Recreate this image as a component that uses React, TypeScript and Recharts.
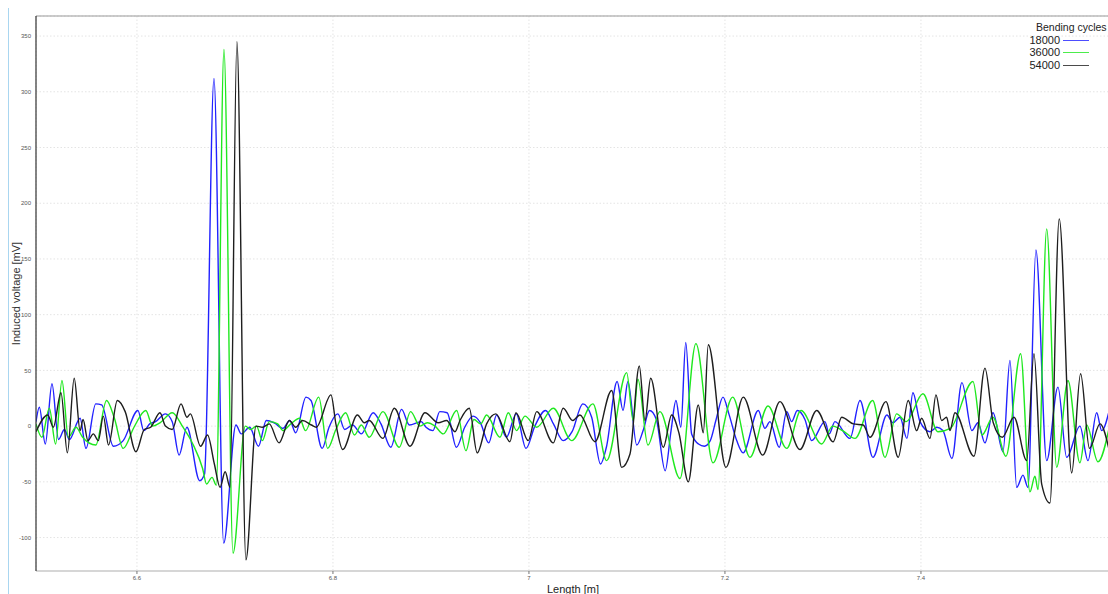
import React from 'react';
import { LineChart, Line, XAxis, YAxis, CartesianGrid, Legend, ReferenceLine } from 'recharts';

const X_TICKS = [6.6, 6.8, 7, 7.2, 7.4];
const Y_TICKS = [-100, -50, 0, 50, 100, 150, 200, 250, 300, 350];
const X_DOMAIN: [number, number] = [6.497, 7.5929];
const Y_DOMAIN: [number, number] = [-130, 368];
const SERIES_NAMES = ['18000', '36000', '54000'];
const SERIES_COLORS = ['#2121ff', '#1fe81f', '#1e1e1e'];
const LEGEND_TITLE = 'Bending cycles';
const X_LABEL = 'Length [m]';
const Y_LABEL = 'Induced voltage [mV]';

// [length m, induced voltage mV]
const cycles18000: [number, number][] = [
  [6.497, 4], [6.5004, 17], [6.5065, -16], [6.5133, 38], [6.52, -12], [6.526, -3], [6.531, -12], [6.542, 7],
  [6.548, -20], [6.558, 20], [6.564, 19], [6.576, -18], [6.586, -13], [6.601, 14], [6.607, -4], [6.613, 2],
  [6.619, 4], [6.629, 11], [6.636, 4], [6.643, -26], [6.651, -1], [6.664, -49], [6.669, -43], [6.6786, 312],
  [6.6885, -105], [6.701, 1], [6.7065, -7], [6.715, -1], [6.724, -18], [6.732, 5], [6.74, 3], [6.749, -2],
  [6.756, 5], [6.762, -6], [6.7725, 26], [6.7776, 23], [6.789, -20], [6.796, -1], [6.805, 11], [6.812, -3],
  [6.82, 1], [6.829, -7], [6.841, 12], [6.849, 2], [6.859, -19], [6.87, 15], [6.878, 1], [6.89, 4],
  [6.895, -1], [6.902, -4], [6.909, 13], [6.9165, 12], [6.926, -19], [6.9345, -1], [6.943, 9], [6.9505, 3],
  [6.959, -15], [6.967, 10], [6.977, -10], [6.987, 11], [6.997, -20], [7.006, 0], [7.017, 14], [7.025, 2],
  [7.035, -13], [7.044, -5], [7.055, 20], [7.064, 8], [7.073, -34], [7.079, -19], [7.09, 40], [7.096, 14],
  [7.101, 40], [7.11, -17], [7.1165, -4], [7.123, 14], [7.13, 6], [7.139, -40], [7.145, -4], [7.15, 23],
  [7.155, -1], [7.16, 75], [7.166, -7], [7.173, -16], [7.179, -18], [7.185, -13], [7.191, 6], [7.198, 26],
  [7.204, 11], [7.212, -13], [7.2185, -24], [7.234, 14], [7.2408, -2], [7.2459, 4], [7.2554, -19], [7.263, 13],
  [7.2681, 4], [7.2738, 14], [7.2816, 6], [7.2885, -13], [7.302, 4], [7.3064, -7], [7.3122, 4], [7.3276, -11],
  [7.3378, 23], [7.351, -28], [7.3653, 10], [7.3714, 3], [7.3786, 8], [7.3857, -11], [7.3918, 30], [7.399, 4],
  [7.4092, -5], [7.4163, -1], [7.4224, -4], [7.4316, -29], [7.4418, 39], [7.452, -4], [7.4582, 3], [7.4653, -15],
  [7.4735, 12], [7.4837, -23], [7.4908, 59], [7.4977, -55], [7.5041, -44], [7.5092, -55], [7.5173, 158], [7.5283, -31],
  [7.5398, 35], [7.5487, -28], [7.5622, 0], [7.5704, -31], [7.5793, 12], [7.5844, -4], [7.5929, 17],
];

const cycles36000: [number, number][] = [
  [6.497, 2], [6.503, -10], [6.5106, 16], [6.517, -16], [6.5235, 41], [6.53, -10], [6.5378, -1], [6.5446, -10],
  [6.558, -17], [6.569, 23], [6.577, 7], [6.586, -20], [6.597, -1], [6.609, 14], [6.616, 0], [6.6235, 3],
  [6.636, 12], [6.647, -1], [6.657, -16], [6.667, -38], [6.671, -52], [6.6766, -46], [6.681, -53], [6.6888, 338],
  [6.698, -114], [6.7106, 0], [6.716, -3], [6.722, 0], [6.728, -13], [6.735, 4], [6.7437, 2], [6.749, -4],
  [6.757, 2], [6.766, 7], [6.772, -4], [6.7855, 26], [6.7946, -20], [6.803, -3], [6.813, 12], [6.822, -8],
  [6.829, 1], [6.837, -10], [6.851, 13], [6.8677, -19], [6.8793, 13], [6.8888, 0], [6.8962, 3], [6.9041, 0],
  [6.9126, -7], [6.9262, 14], [6.9357, -22], [6.9439, 6], [6.9507, 2], [6.9568, 10], [6.9704, -10], [6.9789, 12],
  [6.9874, -4], [6.9959, 9], [7.0079, -1], [7.0248, 16], [7.0436, -13], [7.0653, 20], [7.0793, -31], [7.0997, 48],
  [7.1064, 5], [7.1112, 42], [7.1214, -17], [7.1337, 13], [7.1541, -47], [7.1704, 74], [7.1878, -33], [7.2079, 26],
  [7.2255, -28], [7.2439, 18], [7.263, -20], [7.2776, 14], [7.2987, -16], [7.31, 0], [7.32, -4], [7.3327, -11],
  [7.3507, 23], [7.3633, -28], [7.3752, 11], [7.385, 4], [7.402, 29], [7.4173, -5], [7.43, -2], [7.4531, 40],
  [7.4622, -8], [7.4735, 8], [7.4867, -27], [7.5017, 65], [7.5112, -59], [7.5163, -45], [7.5194, -57], [7.5283, 177],
  [7.5385, -37], [7.55, 41], [7.5622, -33], [7.5691, 1], [7.5806, -32], [7.5929, 2],
];

const cycles54000: [number, number][] = [
  [6.497, -5], [6.509, 10], [6.5147, -1], [6.5225, 30], [6.529, -24], [6.536, 43], [6.542, -4], [6.545, 6],
  [6.55, -13], [6.5555, -7], [6.5606, -13], [6.5657, 9], [6.571, -17], [6.58, 23], [6.588, 13], [6.599, -23],
  [6.6075, -3], [6.614, -1], [6.6235, 12], [6.629, 0], [6.636, -3], [6.645, 20], [6.651, 8], [6.6545, 11],
  [6.665, -18], [6.672, -8], [6.679, -34], [6.6848, -55], [6.69, -41], [6.695, -55], [6.702, 345], [6.7112, -120],
  [6.7215, 0], [6.728, -1], [6.735, 2], [6.745, -15], [6.7555, 5], [6.762, -1], [6.769, 5], [6.778, 1],
  [6.783, -1], [6.798, 28], [6.803, 2], [6.81, -21], [6.825, 10], [6.832, 3], [6.837, 5], [6.851, -11],
  [6.8626, 16], [6.8786, -18], [6.8939, 12], [6.9075, 3], [6.916, 5], [6.9245, -5], [6.9296, 5], [6.9391, 16],
  [6.9472, -24], [6.9568, 2], [6.9663, 11], [6.9806, -14], [6.9867, 12], [6.9993, -13], [7.0079, 13], [7.0248, -15],
  [7.035, 16], [7.0446, 5], [7.052, 10], [7.0673, -14], [7.0844, 32], [7.0946, -37], [7.1031, -25], [7.1126, 54],
  [7.1184, 5], [7.1242, 43], [7.1371, -19], [7.1456, 10], [7.153, -6], [7.1626, -50], [7.1728, 19], [7.1779, -6],
  [7.183, 73], [7.201, -37], [7.2187, 26], [7.2385, -26], [7.2561, 22], [7.2765, -21], [7.2936, 14], [7.3105, -14],
  [7.3191, 8], [7.331, 2], [7.3411, 1], [7.348, -10], [7.3643, 22], [7.3768, -28], [7.387, 23], [7.3956, -4],
  [7.4007, 7], [7.4092, -11], [7.4153, 28], [7.4211, 5], [7.4262, 8], [7.4296, -4], [7.4347, 12], [7.4541, -27],
  [7.4653, 52], [7.4738, 3], [7.483, -10], [7.4949, 8], [7.5079, -31], [7.5153, 65], [7.5232, -52], [7.5316, -69],
  [7.5411, 186], [7.5538, -42], [7.5629, 47], [7.572, -20], [7.5827, 2], [7.5929, -25],
];

const SERIES_POINTS = [cycles18000, cycles36000, cycles54000];

const W = 1104;
const H = 600;
const FONT = '"Liberation Sans", Arial, sans-serif';

const toRows = (pts: [number, number][]) => pts.map(([x, v]) => ({ x, v }));

const renderLegend = () => (
  <div style={{ position: 'relative', width: W, height: 70, fontFamily: FONT, fontSize: 11, color: '#222' }}>
    <div style={{ position: 'absolute', left: 1027, top: 13, whiteSpace: 'nowrap', lineHeight: '13px', fontSize: 10.5 }}>
      {LEGEND_TITLE}
    </div>
    {SERIES_NAMES.map((n, i) => (
      <div
        key={n}
        style={{ position: 'absolute', left: 1015, top: 25.5 + i * 12.5, width: 74, height: 13, display: 'flex', alignItems: 'center' }}
      >
        <span style={{ width: 36, textAlign: 'right', lineHeight: '13px' }}>{n}</span>
        <span style={{ marginLeft: 3, width: 26, height: 0, borderTop: `1.5px solid ${SERIES_COLORS[i]}`, opacity: 0.8 }} />
      </div>
    ))}
  </div>
);

export default function App() {
  return (
    <div
      style={{
        position: 'absolute',
        left: 8,
        top: 8,
        width: 1099,
        height: 586,
        overflow: 'hidden',
        borderLeft: '1px solid #a9d6f0',
        background: '#fff',
      }}
    >
      <LineChart width={W} height={H} margin={{ top: 8, right: 3, bottom: 7, left: 0 }} style={{ fontFamily: FONT }}>
        <CartesianGrid stroke="#e4e4e4" strokeDasharray="1.5 2" />
        <XAxis
          dataKey="x"
          type="number"
          domain={X_DOMAIN}
          ticks={X_TICKS}
          allowDataOverflow
          height={30}
          tickSize={3}
          tickMargin={2}
          tick={{ fontSize: 6, fill: '#555' }}
          tickLine={{ stroke: '#777' }}
          axisLine={{ stroke: '#d6d6d6', strokeWidth: 2 }}
          label={{ value: X_LABEL, position: 'insideBottom', offset: 8, style: { fontSize: 11, fill: '#222' } }}
        />
        <YAxis
          type="number"
          domain={Y_DOMAIN}
          ticks={Y_TICKS}
          allowDataOverflow
          width={27}
          tickSize={3}
          tickMargin={2}
          tickLine={false}
          tick={{ fontSize: 6, fill: '#555' }}
          axisLine={{ stroke: '#333', strokeWidth: 1.2 }}
          label={{
            value: Y_LABEL,
            angle: -90,
            position: 'insideLeft',
            offset: 7,
            style: { textAnchor: 'middle', fontSize: 11, fill: '#333' },
          }}
        />
        <ReferenceLine y={Y_DOMAIN[1]} stroke="#9a9a9a" strokeWidth={1.2} />
        <Legend
          layout="vertical"
          align="center"
          verticalAlign="middle"
          content={renderLegend}
          wrapperStyle={{ left: 0, top: 0, width: W, height: 70, pointerEvents: 'none' }}
        />
        {SERIES_POINTS.map((pts, i) => (
          <Line
            key={SERIES_NAMES[i]}
            data={toRows(pts)}
            dataKey="v"
            name={SERIES_NAMES[i]}
            type="monotone"
            stroke={SERIES_COLORS[i]}
            strokeWidth={1.4}
            dot={false}
            activeDot={false}
            isAnimationActive={false}
          />
        ))}
      </LineChart>
    </div>
  );
}
